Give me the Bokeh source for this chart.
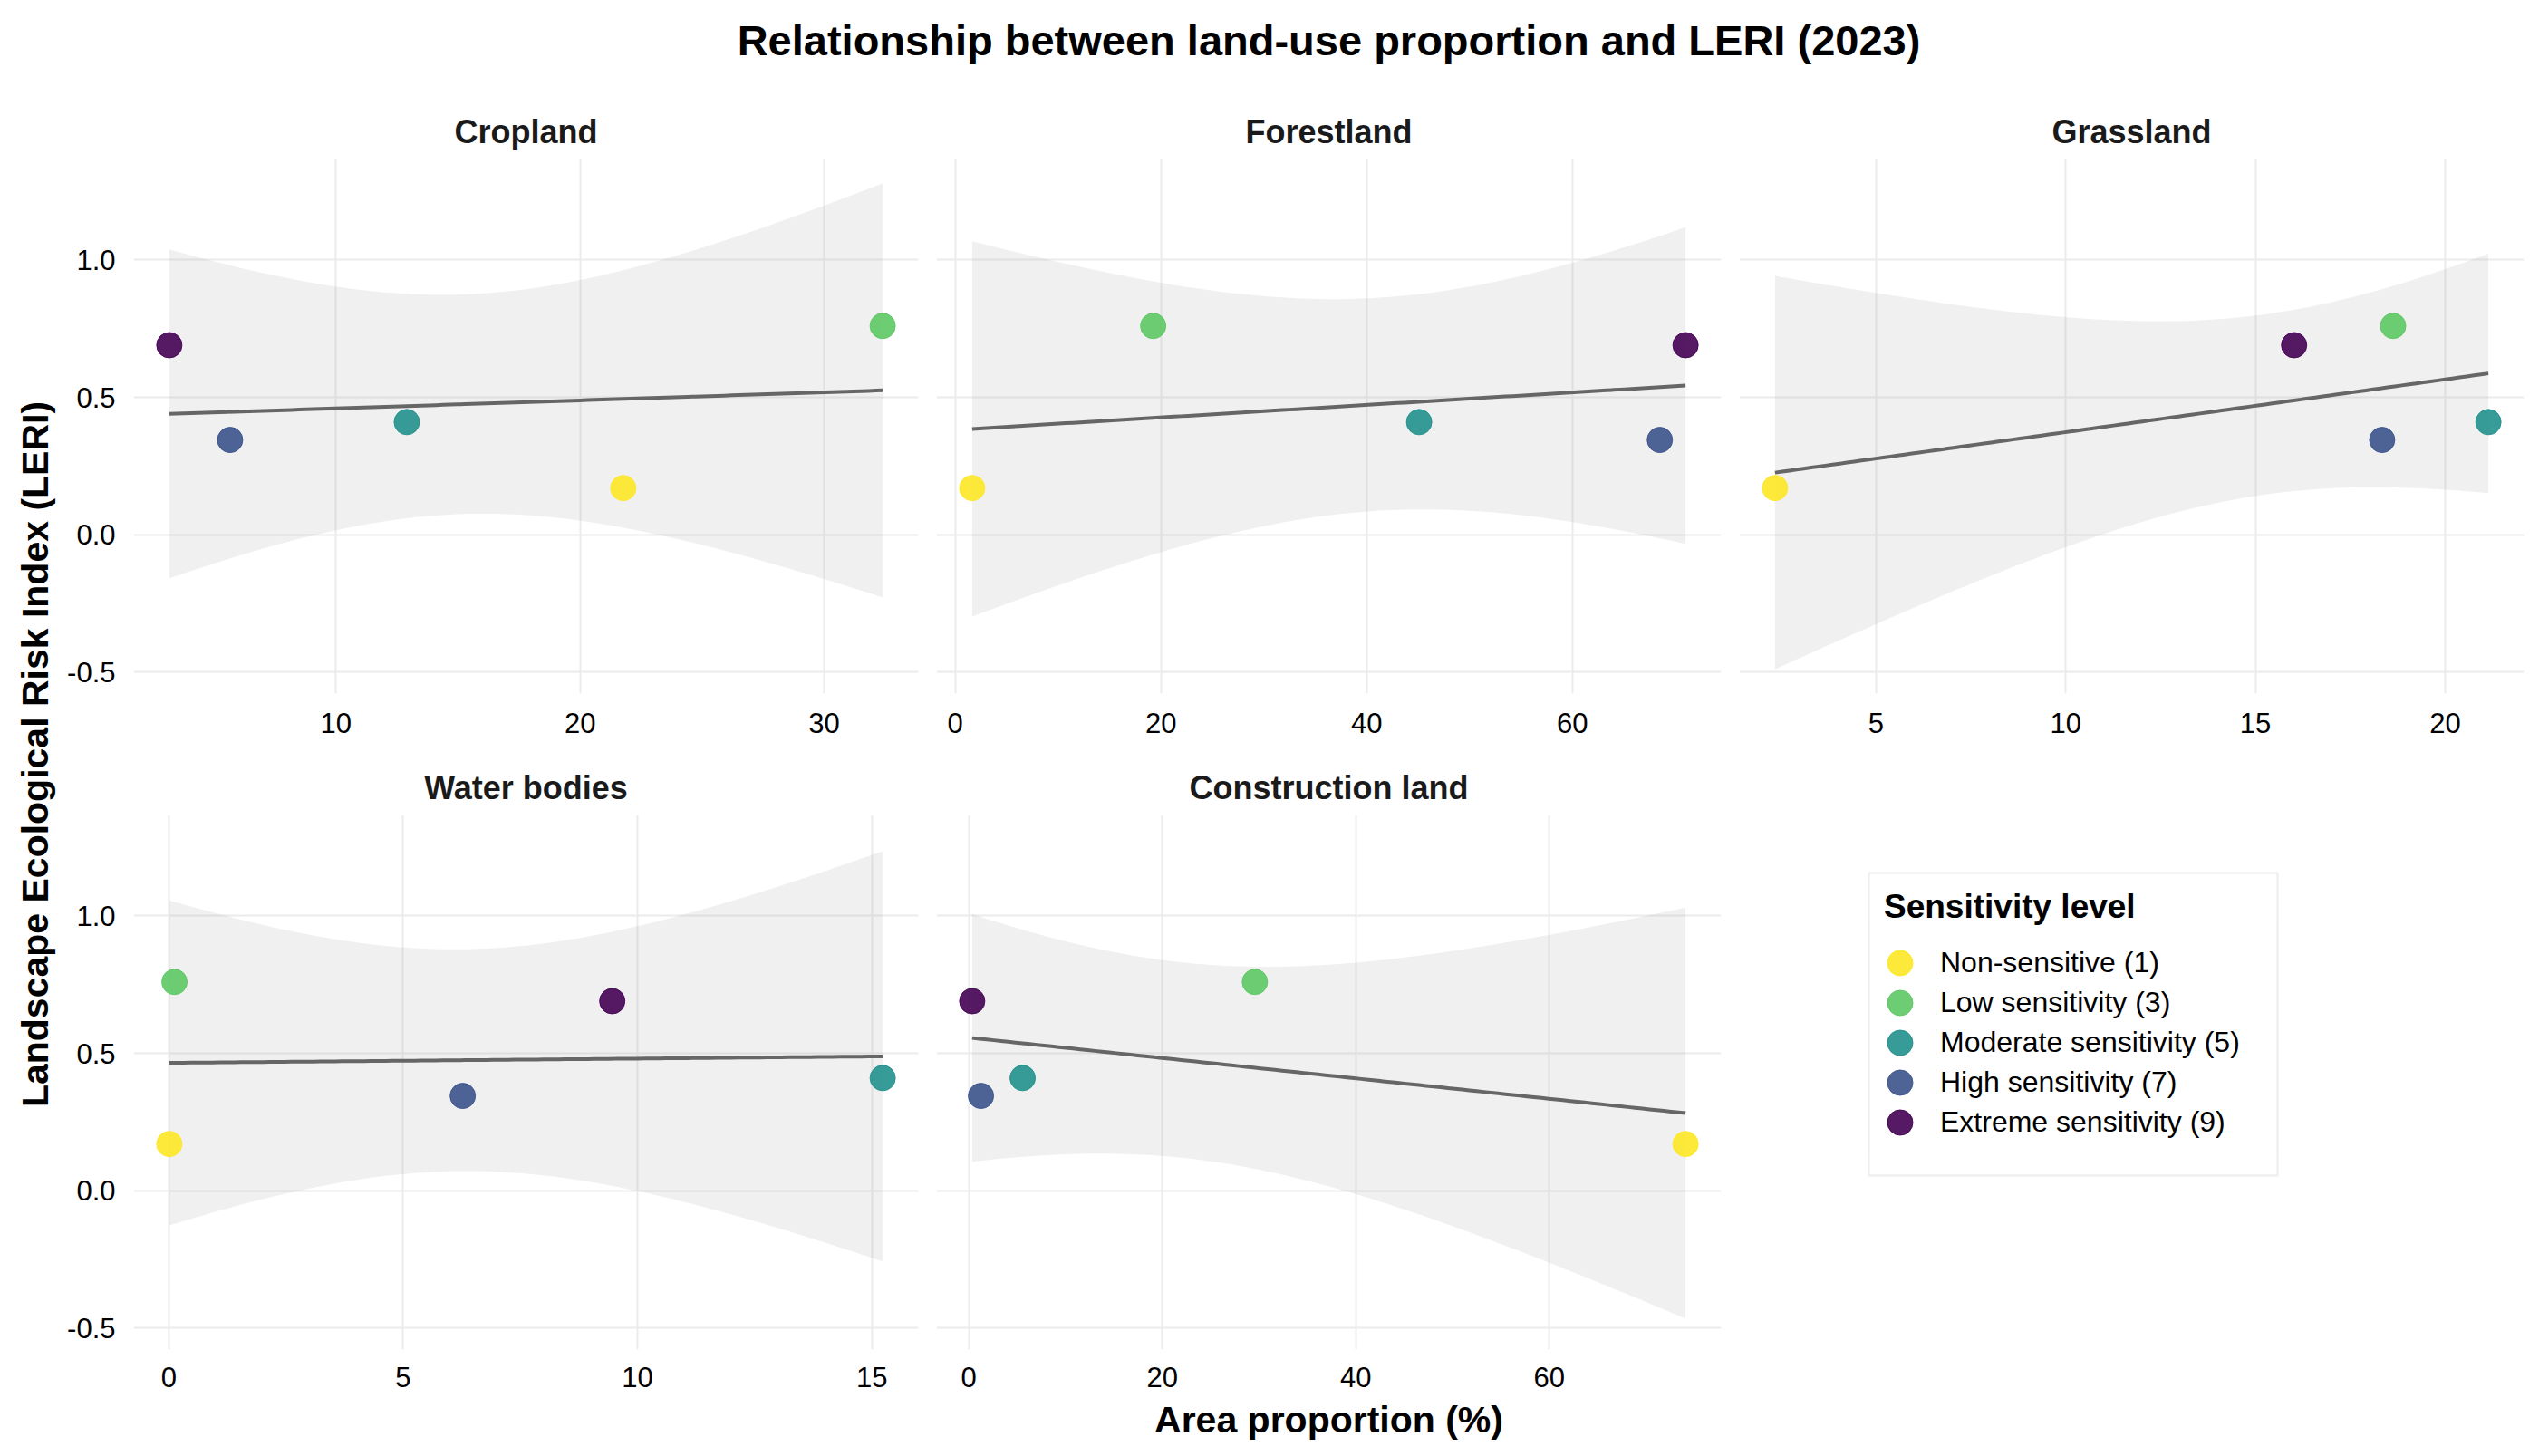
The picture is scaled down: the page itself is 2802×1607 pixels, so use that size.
import numpy as np
from bokeh.plotting import figure
from bokeh.models import (Range1d, FixedTicker, PrintfTickFormatter, Legend, LegendItem,
                          Label, BoxAnnotation, ColumnDataSource)
from bokeh.layouts import row, column
from bokeh.embed import file_html
from bokeh.resources import INLINE

FONT = "Liberation Sans"

# ---------------- data ----------------
title_text = "Relationship between land-use proportion and LERI (2023)"
x_title = "Area proportion (%)"
y_title = "Landscape Ecological Risk Index (LERI)"
legend_title = "Sensitivity level"

land_uses = ["Cropland", "Forestland", "Grassland", "Water bodies", "Construction land"]
levels = ["Non-sensitive (1)", "Low sensitivity (3)", "Moderate sensitivity (5)",
          "High sensitivity (7)", "Extreme sensitivity (9)"]
level_colors = ["#FDE725", "#5DC863", "#21908C", "#3B528B", "#440154"]
leri = [0.17, 0.76, 0.41, 0.345, 0.69]

cropland_pct = [21.77, 32.40, 12.90, 5.66, 3.17]
forestland_pct = [1.65, 19.25, 45.10, 68.50, 71.00]
grassland_pct = [2.34, 18.63, 21.14, 18.34, 16.02]
water_pct = [0.01, 0.12, 15.23, 6.27, 9.46]
construction_pct = [74.10, 29.57, 5.56, 1.25, 0.34]

cropland_ticks = [10, 20, 30]
forestland_ticks = [0, 20, 40, 60]
grassland_ticks = [5, 10, 15, 20]
water_ticks = [0, 5, 10, 15]
construction_ticks = [0, 20, 40, 60]
y_ticks = [-0.5, 0.0, 0.5, 1.0]

T975_DF3 = 3.182446305284263  # t quantile for a 95% band with n-2 = 3 df


def linear_fit(xs, ys, n=100):
    x = np.asarray(xs, float)
    y = np.asarray(ys, float)
    mx, my = x.mean(), y.mean()
    sxx = ((x - mx) ** 2).sum()
    b = ((x - mx) * (y - my)).sum() / sxx
    a = my - b * mx
    resid = y - (a + b * x)
    s = np.sqrt((resid ** 2).sum() / (len(x) - 2))
    xg = np.linspace(x.min(), x.max(), n)
    yg = a + b * xg
    se = s * np.sqrt(1.0 / len(x) + (xg - mx) ** 2 / sxx)
    return xg, yg, yg - T975_DF3 * se, yg + T975_DF3 * se


series = [cropland_pct, forestland_pct, grassland_pct, water_pct, construction_pct]
ticks = [cropland_ticks, forestland_ticks, grassland_ticks, water_ticks, construction_ticks]
fits = [linear_fit(s, leri) for s in series]

lo_all = min(min(f[2].min() for f in fits), min(leri))
hi_all = max(max(f[3].max() for f in fits), max(leri))
ypad = 0.05 * (hi_all - lo_all)
y_lo, y_hi = lo_all - ypad, hi_all + ypad


def style_axis(ax):
    ax.axis_line_color = None
    ax.major_tick_line_color = None
    ax.minor_tick_line_color = None
    ax.major_tick_out = 0
    ax.major_tick_in = 0
    ax.minor_tick_out = 0
    ax.minor_tick_in = 0
    ax.major_label_text_font = FONT
    ax.major_label_text_font_size = "31px"
    ax.major_label_text_color = "black"


def panel(i, w, h, bl, br, bt, bb, show_y, x_standoff):
    xs = series[i]
    xg, yg, lo, hi = fits[i]
    xmin, xmax = min(xs), max(xs)
    xpad = 0.05 * (xmax - xmin)
    p = figure(width=w, height=h,
               x_range=Range1d(xmin - xpad, xmax + xpad), y_range=Range1d(y_lo, y_hi),
               output_backend="svg", toolbar_location=None, title=land_uses[i],
               y_axis_location="left" if show_y else None,
               min_border_left=bl, min_border_right=br,
               min_border_top=bt, min_border_bottom=bb)
    p.outline_line_color = None
    p.background_fill_color = "white"
    p.border_fill_color = "white"
    p.title.align = "center"
    p.title.text_font = FONT
    p.title.text_font_size = "36px"
    p.title.text_font_style = "bold"
    p.title.text_color = "#1A1A1A"
    p.title.standoff = 20

    p.xgrid.ticker = FixedTicker(ticks=ticks[i])
    p.ygrid.ticker = FixedTicker(ticks=y_ticks)
    p.grid.grid_line_color = "#EBEBEB"
    p.grid.grid_line_width = 2

    ax = p.xaxis[0]
    ax.ticker = FixedTicker(ticks=ticks[i])
    style_axis(ax)
    ax.major_label_standoff = x_standoff
    if show_y:
        ay = p.yaxis[0]
        ay.ticker = FixedTicker(ticks=y_ticks)
        ay.formatter = PrintfTickFormatter(format="%.1f")
        style_axis(ay)
        ay.major_label_standoff = 20

    p.varea(x=xg, y1=lo, y2=hi, fill_color="#999999", fill_alpha=0.15)
    p.line(x=xg, y=yg, line_color="#666666", line_width=4)
    src = ColumnDataSource(dict(x=xs, y=leri, c=level_colors, lvl=levels))
    p.scatter(x="x", y="y", source=src, size=28, fill_color="c", line_color="c",
              fill_alpha=0.9, line_alpha=0.9)
    return p


def blank(w, h, fx=None, fy=None, **kw):
    fx = w if fx is None else fx
    fy = h if fy is None else fy
    p = figure(width=w, height=h, x_range=Range1d(0, fx), y_range=Range1d(0, fy),
               x_axis_location=None, y_axis_location=None, toolbar_location=None,
               output_backend="svg", **kw)
    p.grid.visible = False
    p.outline_line_color = None
    p.background_fill_color = "white"
    p.border_fill_color = "white"
    return p


# geometry (page pixels)
W_Y = 64
W1, W2, W3 = 1023 - W_Y, 886, 892
B_LEFT1 = 147 - W_Y
B_TOP, B_BOT1, B_BOT2 = 67, 67, 54
H1, H2 = B_TOP + 590 + B_BOT1, B_TOP + 590 + B_BOT2
H_T = 108
H_X = 1606 - H_T - H1 - H2
TOTAL_W = W_Y + W1 + W2 + W3

p1 = panel(0, W1, H1, B_LEFT1, 10, B_TOP, B_BOT1, True, 21)
p2 = panel(1, W2, H1, 10, 10, B_TOP, B_BOT1, False, 21)
p3 = panel(2, W3, H1, 10, 16, B_TOP, B_BOT1, False, 21)
p4 = panel(3, W1, H2, B_LEFT1, 10, B_TOP, B_BOT2, True, 19)
p5 = panel(4, W2, H2, 10, 10, B_TOP, B_BOT2, False, 19)

# legend panel: frame 803 x 590, data units = pixels from the frame's bottom-left
LB_L = 89
leg = blank(W3, H2, fx=W3 - LB_L, fy=H2 - B_TOP - B_BOT2,
            min_border_left=LB_L, min_border_right=0,
            min_border_top=B_TOP, min_border_bottom=B_BOT2)
leg.extra_x_ranges = {"proxy": Range1d(10, 11)}
proxy_src = ColumnDataSource(dict(x=leri, y=leri, c=level_colors))
proxy = leg.ellipse(x="x", y="y", width=28, height=28, width_units="screen",
                    height_units="screen", source=proxy_src, x_range_name="proxy",
                    fill_color="c", line_color="c", fill_alpha=0.9, line_alpha=0.9)
legend = Legend(items=[LegendItem(label=l, renderers=[proxy], index=i)
                       for i, l in enumerate(levels)],
                location="top_left", margin=81, orientation="vertical",
                title=legend_title, title_text_font=FONT, title_text_font_size="37px",
                title_text_font_style="bold", title_text_color="black", title_standoff=18,
                glyph_width=35, glyph_height=35, label_height=44, spacing=0, padding=16,
                label_standoff=27, label_text_font=FONT, label_text_font_size="32px",
                label_text_color="black", border_line_color=None,
                background_fill_alpha=0)
leg.add_layout(legend)
leg.add_layout(BoxAnnotation(left=64, right=515, top=526, bottom=192, fill_alpha=0,
                             line_color="#CCCCCC", line_width=2.5))

# title, axis titles
tfig = blank(TOTAL_W, H_T, min_border=0)
tfig.add_layout(Label(x=1466, y=64, text=title_text, text_font=FONT, text_font_size="47px",
                      text_font_style="bold", text_color="black", text_align="center",
                      text_baseline="middle"))

yfig = blank(W_Y, H1 + H2, min_border=0)
yfig.add_layout(Label(x=38.5, y=H1 + H2 - (832 - H_T), text=y_title, angle=np.pi / 2,
                      text_font=FONT, text_font_size="41px", text_font_style="bold",
                      text_color="black", text_align="center", text_baseline="middle"))

xfig = blank(TOTAL_W, H_X, min_border=0)
xfig.add_layout(Label(x=1466, y=1606 - 1566, text=x_title, text_font=FONT,
                      text_font_size="41px", text_font_style="bold", text_color="black",
                      text_align="center", text_baseline="middle"))

grid = column(row(p1, p2, p3), row(p4, p5, leg))
layout = column(tfig, row(yfig, grid), xfig)

open("out.html", "w").write(file_html(layout, INLINE, title="LERI"))
